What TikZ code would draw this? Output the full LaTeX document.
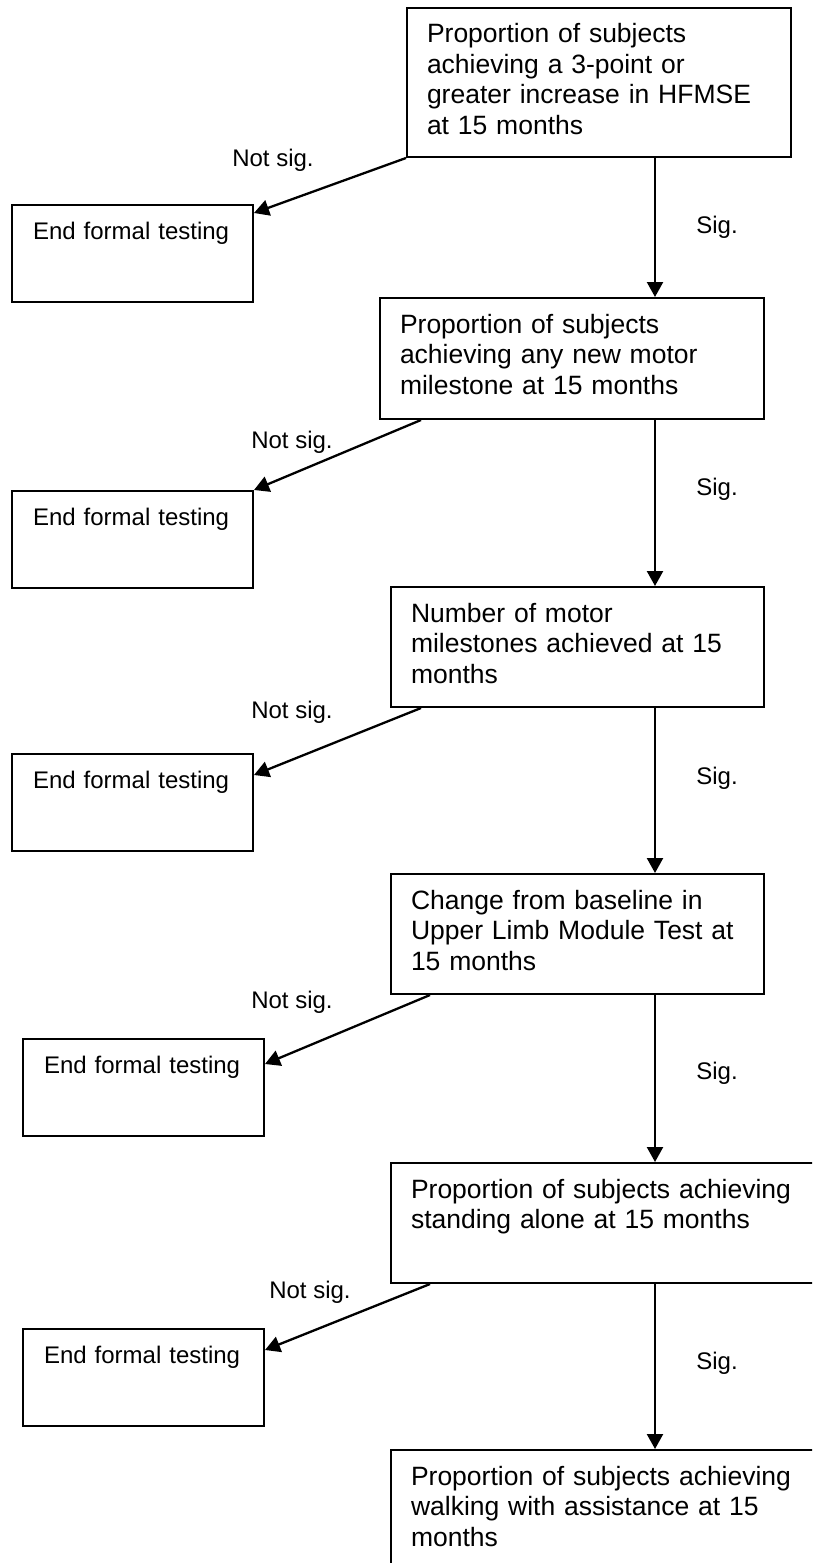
\documentclass[tikz,border=0pt]{standalone}
\usepackage{fontspec}
\setmainfont{Liberation Sans}
\usepackage{tikz}
\usetikzlibrary{positioning,calc,arrows.meta}

\begin{document}
\begin{tikzpicture}[
  x=1pt, y=-1pt,
  every node/.style={align=left},
  outcome/.style={rectangle, draw, line width=2pt, inner xsep=20pt, inner ysep=0pt, text height=35pt, font=\fontsize{26.5}{30.5}\selectfont},
  endbox/.style={rectangle, draw, line width=2pt, inner xsep=21pt, inner ysep=0pt, text width=199pt, text height=34pt, text depth=63pt, font=\fontsize{24}{27.6}\selectfont},
  lbl/.style={font=\fontsize{24}{27.6}\selectfont, inner sep=0pt},
  arr/.style={-{Triangle[length=15pt,width=16pt]}, line width=2.3pt}
]
\useasboundingbox (0,0) rectangle (812,1563);
\clip (0,0) rectangle (812,1563);
\coordinate (spine) at (655,0);
% Right column: outcomes tested in order
\node[outcome, anchor=north west, text width=344pt, text depth=114pt] (o1) at (406,7) {Proportion of subjects \\ achieving a 3-point or \\ greater increase in HFMSE \\ at 15 months};
\node[outcome, anchor=north west, text width=344pt, text depth=86pt] (o2) at (379,297) {Proportion of subjects \\ achieving any new motor \\ milestone at 15 months};
\node[outcome, anchor=north west, text width=333pt, text depth=85pt] (o3) at (390,586) {Number of motor \\ milestones achieved at 15 \\ months};
\node[outcome, anchor=north west, text width=333pt, text depth=85pt] (o4) at (390,873) {Change from baseline in \\ Upper Limb Module Test at \\ 15 months};
\node[outcome, anchor=north west, text width=400pt, text depth=85pt] (o5) at (390,1162) {Proportion of subjects achieving \\ standing alone at 15 months};
\node[outcome, anchor=north west, text width=400pt, text depth=116pt] (o6) at (390,1449) {Proportion of subjects achieving \\ walking with assistance at 15 \\ months};
% Left column: stop boxes
\node[endbox, anchor=north west] (e1) at (11,204) {End formal testing};
\node[endbox, anchor=north west] (e2) at (11,490) {End formal testing};
\node[endbox, anchor=north west] (e3) at (11,753) {End formal testing};
\node[endbox, anchor=north west] (e4) at (22,1038) {End formal testing};
\node[endbox, anchor=north west] (e5) at (22,1328) {End formal testing};
% Labels
\node[lbl] (ns1) at (273,160) {Not sig.};
\node[lbl] (ns2) at (292,442) {Not sig.};
\node[lbl] (ns3) at (292,712) {Not sig.};
\node[lbl] (ns4) at (292,1002) {Not sig.};
\node[lbl] (ns5) at (310,1292) {Not sig.};
\node[lbl] (s1) at (717,227) {Sig.};
\node[lbl] (s2) at (717,489) {Sig.};
\node[lbl] (s3) at (717,778) {Sig.};
\node[lbl] (s4) at (717,1073) {Sig.};
\node[lbl] (s5) at (717,1363) {Sig.};
% Arrows
\draw[arr] (o1.south -| spine) -- (o2.north -| spine);
\draw[arr] (o2.south -| spine) -- (o3.north -| spine);
\draw[arr] (o3.south -| spine) -- (o4.north -| spine);
\draw[arr] (o4.south -| spine) -- (o5.north -| spine);
\draw[arr] (o5.south -| spine) -- (o6.north -| spine);
\draw[arr] (o1.south west) -- ([yshift=-9pt]e1.north east);
\draw[arr] ([xshift=42pt]o2.south west) -- (e2.north east);
\draw[arr] ([xshift=31pt]o3.south west) -- ([yshift=-22pt]e3.north east);
\draw[arr] ([xshift=40pt]o4.south west) -- ([yshift=-26pt]e4.north east);
\draw[arr] ([xshift=40pt]o5.south west) -- ([yshift=-22pt]e5.north east);
\end{tikzpicture}
\end{document}
